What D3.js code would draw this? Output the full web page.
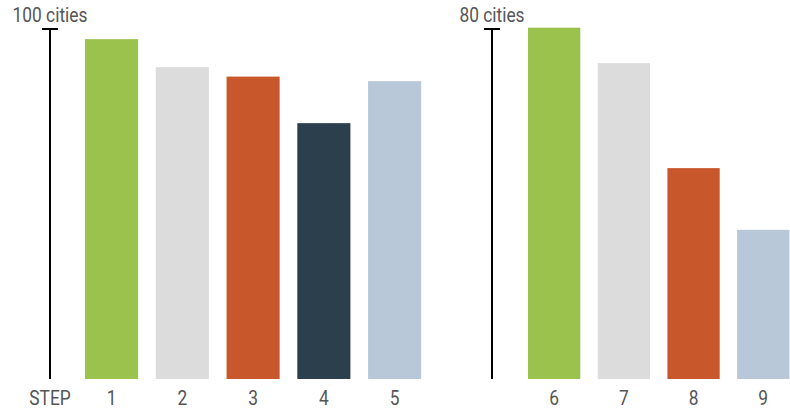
<!DOCTYPE html>
<html>
<head>
<meta charset="utf-8">
<script src="https://cdn.jsdelivr.net/npm/d3@7"></script>
<style>
  body { margin: 0; background: #fff; }
  text { font-family: Roboto, "Noto Sans", sans-serif; fill: #555; }
</style>
</head>
<body>
<svg width="790" height="412"></svg>
<script>
// data
var leftSteps = ["1", "2", "3", "4", "5"];
var leftValues = [97.1, 89.1, 86.4, 73.1, 85.1];
var rightSteps = ["6", "7", "8", "9"];
var rightValues = [80.3, 72.2, 48.2, 34.1];
var stepColors = ["#9bc24c", "#dcdcdc", "#c8572b", "#2c3f4c", "#b8c8d8"];
var rightColors = ["#9bc24c", "#dcdcdc", "#c8572b", "#b8c8d8"];
var leftMax = 100, rightMax = 80;
var leftUnit = "100 cities", rightUnit = "80 cities";

const svg = d3.select('svg');
var yBottom = 379, yTop = 29;
var fontSize = '19.5px';
var squeeze = 0.89; // condensed look

function label(sel, x, y, txt) {
    return sel.append('text')
        .attr('transform', `translate(${x},${y}) scale(${squeeze},1)`)
        .attr('text-anchor', 'middle')
        .style('font-size', fontSize)
        .text(txt);
}

function panel(steps, values, colors, max, unit, axisX, range) {
    var x = d3.scaleBand()
        .domain(steps)
        .range(range)
        .paddingInner(0.25)
        .paddingOuter(0.125);
    var y = d3.scaleLinear()
        .domain([0, max])
        .range([yBottom, yTop]);

    var g = svg.append('g');

    // axis line + cap
    g.append('line')
        .attr('x1', axisX).attr('x2', axisX)
        .attr('y1', y(0)).attr('y2', y(max))
        .attr('stroke', '#000').attr('stroke-width', 2);
    g.append('line')
        .attr('x1', axisX - 8).attr('x2', axisX + 8)
        .attr('y1', y(max)).attr('y2', y(max))
        .attr('stroke', '#000').attr('stroke-width', 2);
    label(g, axisX, y(max) - 7, unit);

    g.selectAll('.bar')
        .data(steps)
        .enter().append('rect')
        .attr('class', 'bar')
        .attr('x', d => x(d))
        .attr('width', x.bandwidth())
        .attr('y', (d, i) => y(values[i]))
        .attr('height', (d, i) => y(0) - y(values[i]))
        .attr('fill', (d, i) => colors[i]);

    // step labels
    var xAxis = d3.axisBottom(x).tickSize(0).tickPadding(0);
    var ax = g.append('g')
        .attr('transform', `translate(0,${yBottom})`)
        .call(xAxis);
    ax.select('.domain').remove();
    ax.selectAll('text')
        .attr('y', 0)
        .attr('dy', 0)
        .attr('transform', `translate(0,26) scale(${squeeze},1)`)
        .attr('fill', '#555')
        .style('font-family', 'Roboto, "Noto Sans", sans-serif')
        .style('font-size', fontSize);
    return g;
}

var lg = panel(leftSteps, leftValues, stepColors, leftMax, leftUnit, 50, [76.2, 430]);
panel(rightSteps, rightValues, rightColors, rightMax, rightUnit, 492, [519.3, 798.1]);

label(lg, 50, yBottom + 26, 'STEP');
</script>
</body>
</html>
